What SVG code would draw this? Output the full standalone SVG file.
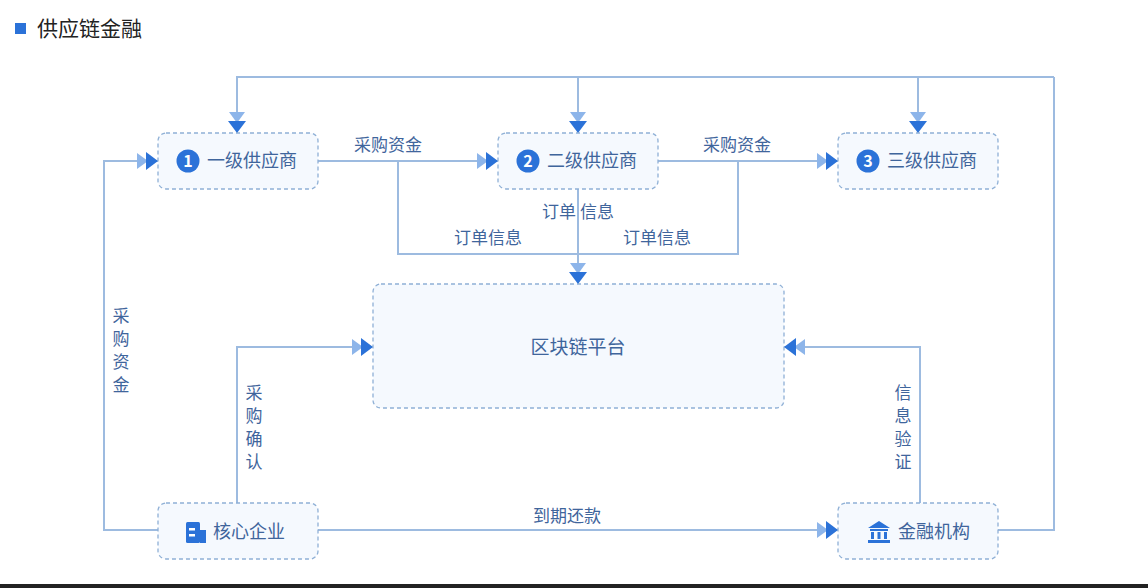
<svg xmlns="http://www.w3.org/2000/svg" width="1148" height="588" viewBox="0 0 1148 588">
<style>
text{font-family:"Noto Sans CJK SC","Noto Sans",sans-serif;fill:#3f659c;font-size:17px}
.box{fill:#f5f9fe;stroke:#8fb0d6;stroke-width:1.3;stroke-dasharray:4 3}
.ln{fill:none;stroke:#9dbbe0;stroke-width:2}
.lbl{font-size:17px;text-anchor:middle}
.nl{font-size:18px}
</style>
<defs>
<marker id="ah" viewBox="0 0 21 18" refX="21" refY="9" markerWidth="21" markerHeight="18" markerUnits="userSpaceOnUse" orient="auto">
<path d="M0,1 L11,9 L0,17 Z" fill="#8db5ea"/>
<path d="M9,0 L21,9 L9,18 Z" fill="#2b72d8"/>
</marker>
</defs>
<rect x="0" y="0" width="1148" height="588" fill="#fff"/>
<rect x="0" y="584" width="1148" height="4" fill="#222"/>
<rect x="15" y="23" width="11" height="11" fill="#2b72d8"/>
<text x="37" y="36" style="font-size:21px;fill:#222">供应链金融</text>
<g id="connectors">
<path class="ln" d="M1054,77 H237 V133" marker-end="url(#ah)"/>
<path class="ln" d="M578,77 V133" marker-end="url(#ah)"/>
<path class="ln" d="M918,77 V133" marker-end="url(#ah)"/>
<path class="ln" d="M998,530 H1054 V77"/>
<path class="ln" d="M158,530 H104 V161 H158" marker-end="url(#ah)"/>
<path class="ln" d="M318,161 H498" marker-end="url(#ah)"/>
<path class="ln" d="M658,161 H838" marker-end="url(#ah)"/>
<path class="ln" d="M398,161 V254 H738 V161"/>
<path class="ln" d="M578,189 V284" marker-end="url(#ah)"/>
<path class="ln" d="M237,503 V347 H373" marker-end="url(#ah)"/>
<path class="ln" d="M920,503 V347 H784" marker-end="url(#ah)"/>
<path class="ln" d="M318,530 H838" marker-end="url(#ah)"/>
<text class="lbl" x="388" y="151">采购资金</text>
<text class="lbl" x="737" y="151">采购资金</text>
<text class="lbl" x="578" y="218">订单 信息</text>
<text class="lbl" x="488" y="244">订单信息</text>
<text class="lbl" x="657" y="244">订单信息</text>
<text class="lbl" x="567" y="522">到期还款</text>
<text class="lbl" x="121" y="322">采</text><text class="lbl" x="121" y="345">购</text><text class="lbl" x="121" y="368">资</text><text class="lbl" x="121" y="391">金</text>
<text class="lbl" x="254" y="399">采</text><text class="lbl" x="254" y="422">购</text><text class="lbl" x="254" y="445">确</text><text class="lbl" x="254" y="468">认</text>
<text class="lbl" x="903" y="399">信</text><text class="lbl" x="903" y="422">息</text><text class="lbl" x="903" y="445">验</text><text class="lbl" x="903" y="468">证</text>
</g>
<g id="n1"><rect class="box" x="158" y="133" width="160" height="56" rx="8"/><circle cx="188" cy="161" r="11.5" fill="#2b72d8"/><text x="188" y="167" text-anchor="middle" style="fill:#fff;font-size:16px;font-weight:bold">1</text><text class="nl" x="207" y="167">一级供应商</text></g>
<g id="n2"><rect class="box" x="498" y="133" width="160" height="56" rx="8"/><circle cx="528" cy="161" r="11.5" fill="#2b72d8"/><text x="528" y="167" text-anchor="middle" style="fill:#fff;font-size:16px;font-weight:bold">2</text><text class="nl" x="547" y="167">二级供应商</text></g>
<g id="n3"><rect class="box" x="838" y="133" width="160" height="56" rx="8"/><circle cx="868" cy="161" r="11.5" fill="#2b72d8"/><text x="868" y="167" text-anchor="middle" style="fill:#fff;font-size:16px;font-weight:bold">3</text><text class="nl" x="887" y="167">三级供应商</text></g>
<g id="platform"><rect class="box" x="373" y="284" width="411" height="124" rx="8"/><text x="578" y="354" text-anchor="middle" style="font-size:19px">区块链平台</text></g>
<g id="core"><rect class="box" x="158" y="503" width="160" height="56" rx="8"/>
<rect x="186" y="522" width="14" height="21" rx="1.5" fill="#2b72d8"/><rect x="200" y="530" width="6" height="13" fill="#2b72d8"/><rect x="189" y="528" width="6" height="2.5" fill="#fff"/><rect x="189" y="534" width="6" height="2.5" fill="#fff"/>
<text class="nl" x="213" y="538">核心企业</text></g>
<g id="fin"><rect class="box" x="838" y="503" width="160" height="56" rx="8"/>
<path d="M868,528 L879,521 L890,528 Z M870,529 H888 V531 H870 Z M871,532 H874 V539 H871 Z M877.5,532 H880.5 V539 H877.5 Z M884,532 H887 V539 H884 Z M868,540 H890 V543 H868 Z" fill="#2b72d8"/>
<text class="nl" x="898" y="538">金融机构</text></g>
</svg>
